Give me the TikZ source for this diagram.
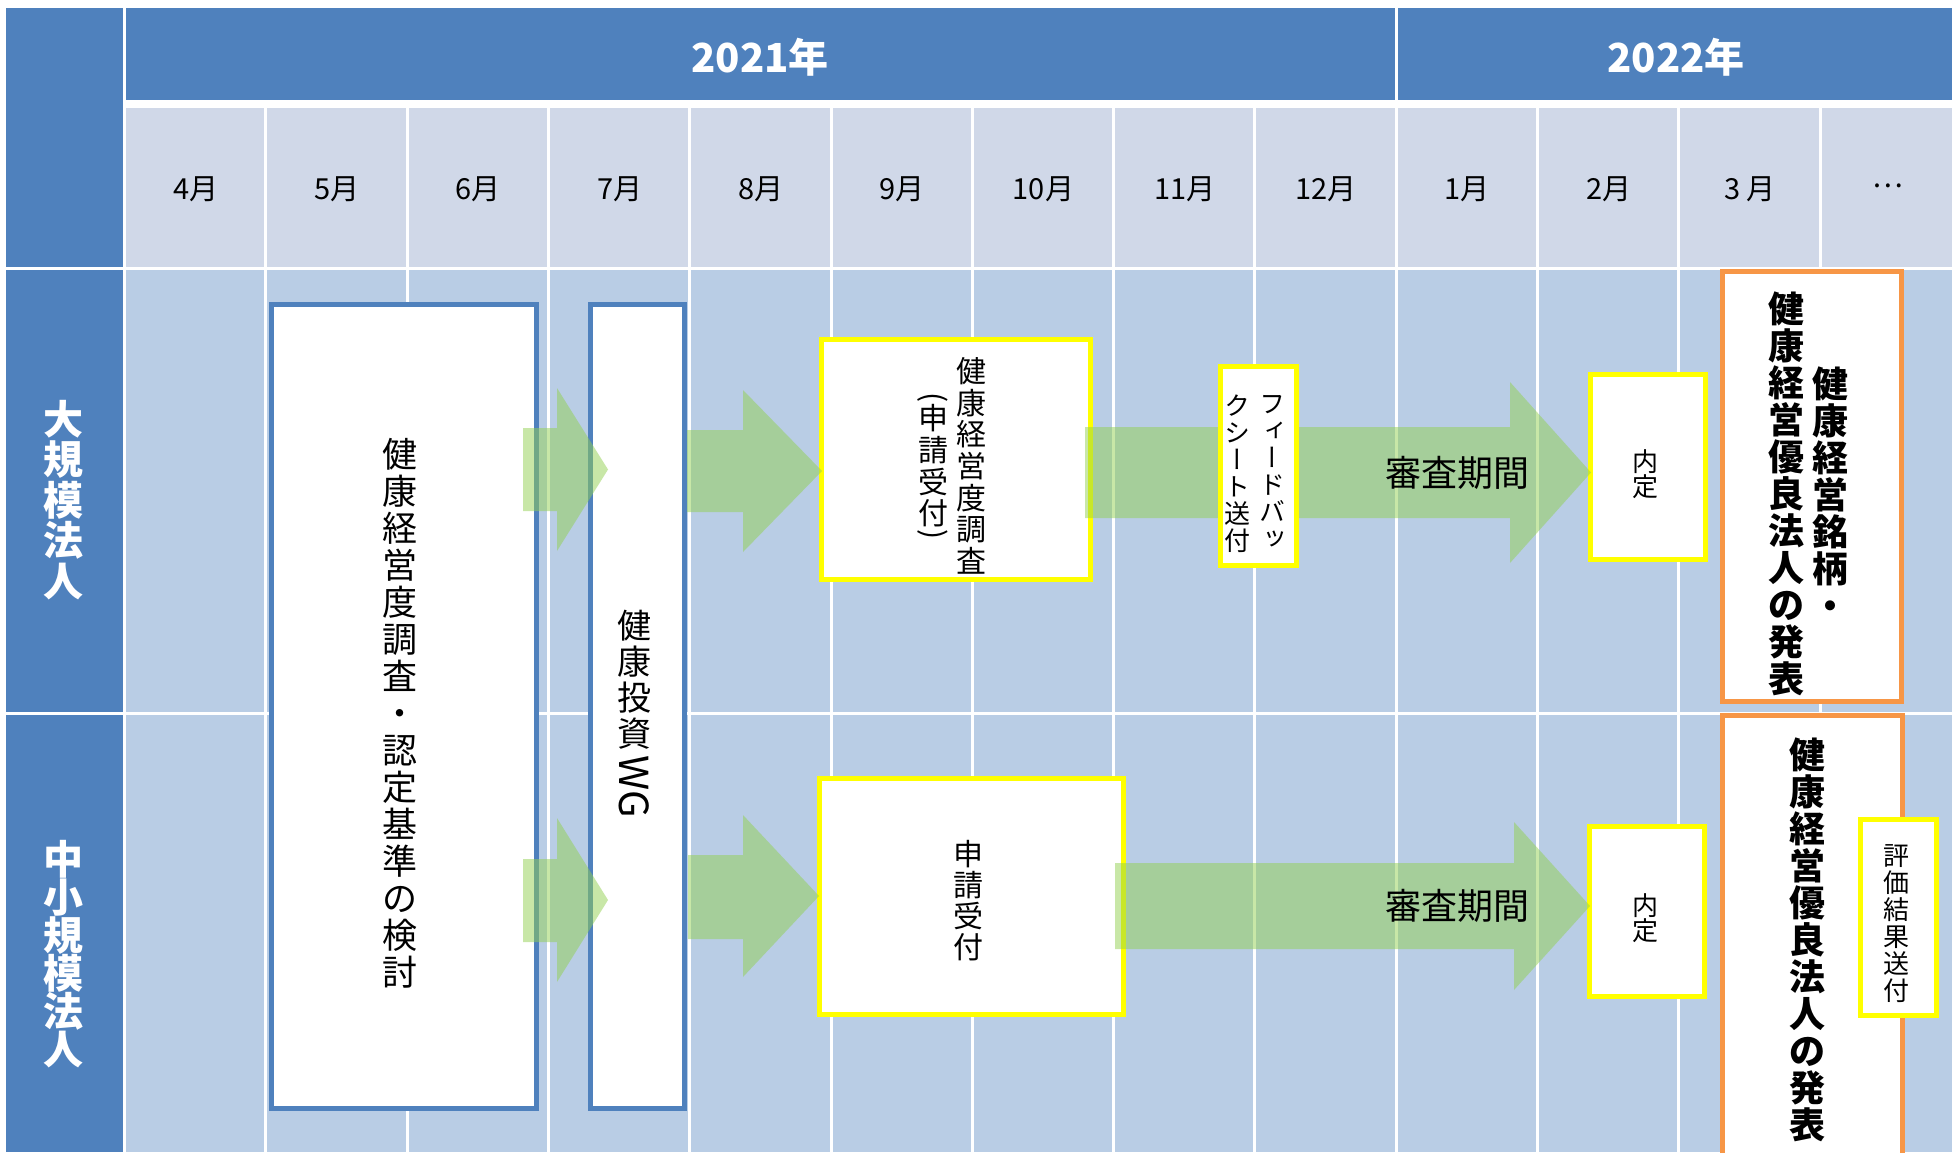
\documentclass[tikz,border=0pt]{standalone}
\usepackage{fontspec}
\usepackage{graphicx}
\setmainfont{Noto Sans CJK JP}
\newfontfamily\jpv{Noto Sans CJK JP}[RawFeature=+vert]
\definecolor{hdrblue}{HTML}{4F81BD}
\definecolor{monfill}{HTML}{D0D8E8}
\definecolor{bodfill}{HTML}{B9CDE5}
\definecolor{boxblue}{HTML}{4F81BD}
\definecolor{yel}{HTML}{FFFF00}
\definecolor{org}{HTML}{F79646}
\definecolor{agreen}{HTML}{92D050}
\newdimen\vpitch
\newcommand\vcell[1]{\vbox to \vpitch{\vss\hbox to 0pt{\hss\smash{#1}\hss}\vskip\dimexpr 0.5\vpitch-0.38em\relax}}
\def\vlist#1{\vlistA#1\relax}
\def\vlistA#1{\ifx#1\relax\else\vcell{#1}\expandafter\vlistA\fi}
\newcommand\vrot[2]{\vbox to #1{\vss\hbox to 0pt{\hss\rotatebox{-90}{#2}\hss}\vss}}
\newcommand\vcol[3]{\vbox{\offinterlineskip\fontsize{#1}{#1}\selectfont\vpitch=#2\relax #3}}
\newcommand\barrow[7]{\fill[arrowfill] (#1,#4) -- (#2,#4) -- (#2,#6) -- (#3,{(#6+#7)/2}) -- (#2,#7) -- (#2,#5) -- (#1,#5) -- cycle;}
\newcommand\jfs[1]{\fontsize{#1}{#1}\selectfont}
\tikzset{
  gridline/.style={white, line width=3bp},
  bluebox/.style={draw=boxblue, line width=5bp, fill=white, inner sep=0pt, outer sep=0pt},
  yelbox/.style={draw=yel, line width=5bp, fill=white, inner sep=0pt, outer sep=0pt},
  orgbox/.style={draw=org, line width=5bp, fill=white, inner sep=0pt, outer sep=0pt},
  arrowfill/.style={fill=agreen, fill opacity=0.5},
  vt/.style={inner sep=0pt, outer sep=0pt, text=black},
  wt/.style={inner sep=0pt, outer sep=0pt, text=white},
}
\begin{document}
\begin{tikzpicture}[x=1bp,y=-1bp]
\useasboundingbox (0,0) rectangle (1952,1152);
\clip (0,0) rectangle (1952,1152);
\fill[white] (0,0) rectangle (1952,1152);
% table
\fill[hdrblue] (6,8) rectangle (124,1152);
\fill[hdrblue] (125.5,8) rectangle (1952,100);
\fill[monfill] (125.5,108) rectangle (1952,268);
\fill[bodfill] (125.5,268) rectangle (1952,1152);
\draw[white, line width=2.5bp] (124.5,8) -- (124.5,1152);
\draw[gridline] (6,268) -- (1952,268);
\draw[gridline] (6,713.5) -- (1952,713.5);
\draw[gridline] (1396,8) -- (1396,100);
\foreach \k in {1,...,12} {
  \draw[gridline] ({124.5+\k*141.3},108) -- ({124.5+\k*141.3},1152);
}
% header texts
\node[wt, font=\jfs{40bp}\bfseries] (y2021) at (760,57) {2021年};
\node[wt, font=\jfs{40bp}\bfseries] (y2022) at (1676,57) {2022年};
\foreach \m [count=\i from 0] in {4月,5月,6月,7月,8月,9月,10月,11月,12月,1月,2月} {
  \node[vt, font=\jfs{29bp}] (m\i) at ({195.65+\i*141.3},189) {\m};
}
\node[vt, font=\jfs{29bp}] (m11) at ({195.65+11*141.3},189) {3\hspace{5bp}月};
\node[vt, font=\jfs{29bp}] (m12) at (1888,186) {…};
% row labels
\node[wt] (large) at (63,500) {\vcol{40bp}{40.5bp}{\bfseries\vlist{大規模法人}}};
\node[wt] (small) at (63,954) {\vcol{40bp}{38bp}{\bfseries\vlist{中小規模法人}}};
% boxes under arrows
\node[bluebox, minimum width=265bp, minimum height=804bp] (kentou) at (404,706.5) {};
\node[bluebox, minimum width=94bp, minimum height=804bp] (wg) at (637.5,706.5) {};
\node[yelbox, minimum width=269bp, minimum height=240bp] (chosa) at (956,459.5) {};
\node[yelbox, minimum width=304bp, minimum height=236bp] (shinsei) at (971.5,896.5) {};
\node[yelbox, minimum width=115bp, minimum height=185bp] (naitei1) at (1648,467) {};
\node[yelbox, minimum width=115bp, minimum height=170bp] (naitei2) at (1647,911.5) {};
% arrows
\barrow{523}{557}{608}{428}{511}{388}{551}
\barrow{523}{557}{608}{859}{942}{818}{982}
\barrow{687}{743}{822}{430}{512}{390}{552}
\barrow{688}{743}{819}{855}{939}{815}{977}
\barrow{1085}{1510}{1591}{427}{518}{382}{563}
\barrow{1115}{1514}{1590}{863}{949}{822}{990}
% boxes over arrows
\node[yelbox, minimum width=76bp, minimum height=199bp] (fb) at (1258.5,466) {};
\node[orgbox, minimum width=179bp, minimum height=430bp] (happyo1) at (1812,486.5) {};
\node[orgbox, minimum width=180bp, minimum height=460bp] (happyo2) at (1812.5,945) {};
\node[yelbox, minimum width=76bp, minimum height=196bp] (hyoka) at (1898.5,917.5) {};
% texts
\node[vt] (t-kentou) at (400,713) {\vcol{35bp}{37bp}{\vlist{健康経営度調査・認定基準の検討}}};
\node[vt] (t-wg) at (634,715) {\vcol{34bp}{36bp}{\vlist{健康投資}\vrot{70bp}{\fontsize{40bp}{40bp}\selectfont WG}}};
\node[vt] (t-chosa-r) at (971,466) {\vcol{30bp}{31.7bp}{\vlist{健康経営度調査}}};
\node[vt] (t-chosa-l) at (933,466) {\vcol{30bp}{31.7bp}{\vrot{11bp}{(}\vlist{申請受付}\vrot{11bp}{)}}};
\node[vt] (t-fb-r) at (1272,471) {\vcol{26bp}{27bp}{\jpv\vlist{フィードバッ}}};
\node[vt] (t-fb-l) at (1237,473.5) {\vcol{26bp}{27bp}{\jpv\vlist{クシート送付}}};
\node[vt, font=\jfs{36bp}] (t-shinsa1) at (1457,473) {審査期間};
\node[vt, font=\jfs{36bp}] (t-shinsa2) at (1457,906) {審査期間};
\node[vt] (t-naitei1) at (1645,474) {\vcol{26bp}{25bp}{\vlist{内定}}};
\node[vt] (t-naitei2) at (1645,918) {\vcol{26bp}{25bp}{\vlist{内定}}};
\node[vt] (t-shinsei) at (968,901) {\vcol{30bp}{31bp}{\vlist{申請受付}}};
\node[vt] (t-happyo1-r) at (1830,494.5) {\vcol{36bp}{37bp}{\bfseries\vlist{健康経営銘柄・}}};
\node[vt] (t-happyo1-l) at (1786,493.5) {\vcol{36bp}{37bp}{\bfseries\vlist{健康経営優良法人の発表}}};
\node[vt] (t-happyo2) at (1807,940) {\vcol{36bp}{37bp}{\bfseries\vlist{健康経営優良法人の発表}}};
\node[vt] (t-hyoka) at (1896,923.5) {\vcol{26bp}{27bp}{\vlist{評価結果送付}}};
\end{tikzpicture}
\end{document}
